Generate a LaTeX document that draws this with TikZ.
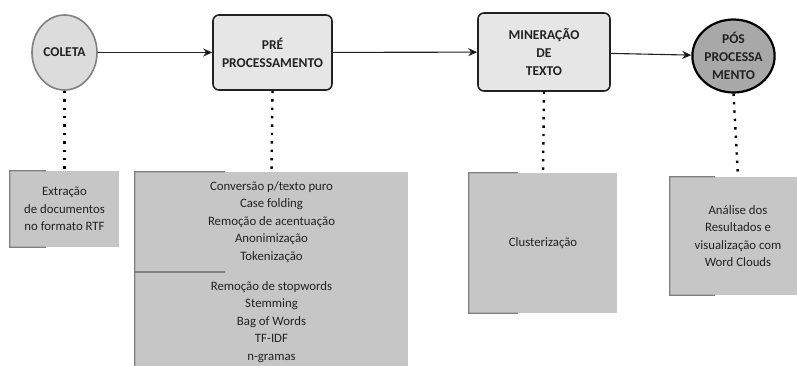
\documentclass[tikz,border=0pt]{standalone}
\usepackage{fontspec}
\setmainfont{Carlito}
\usepackage{tikz}
\usetikzlibrary{arrows.meta,shapes.geometric,calc}

\definecolor{notefill}{HTML}{C6C6C6}
\definecolor{notebrk}{HTML}{808080}
\definecolor{tasklight}{HTML}{E6E6E6}
\definecolor{startfill}{HTML}{DCDCDC}
\definecolor{endfill}{HTML}{A8A8A8}
\definecolor{ink}{HTML}{222222}

\begin{document}
\begin{tikzpicture}[x=1pt, y=-1pt,
	font=\fontsize{12.8}{17.5}\selectfont, text=ink,
	head/.style={font=\fontsize{13.5}{18}\selectfont\bfseries, align=center, inner sep=0pt},
	task/.style={head, rectangle, rounded corners=6pt, draw=ink, line width=1.6pt, fill=tasklight},
	note/.style={rectangle, fill=notefill, align=center, inner sep=0pt},
	flow/.style={draw=ink, line width=1.1pt, -{Stealth[length=9pt,width=8pt]}},
	assoc/.style={draw=black, line width=2.4pt, dash pattern=on 2.4pt off 6pt}
	]
	\useasboundingbox (0,0) rectangle (797,365);

	% eventos e tarefas
	\node[head, ellipse, draw=notebrk, line width=1.6pt, fill=startfill,
		minimum width=65pt, minimum height=75pt] (coleta) at (64.5,52.5) {COLETA};
	\node[task, minimum width=119pt, minimum height=75pt] (pre) at (272.5,52.5) {PRÉ\\PROCESSAMENTO};
	\node[task, minimum width=132pt, minimum height=78pt] (mine) at (544,52) {MINERAÇÃO\\DE\\TEXTO};
	\node[head, ellipse, draw=black, line width=2.2pt, fill=endfill, inner sep=0pt,
		minimum width=61pt, minimum height=73pt] (pos) at (733.5,56) {PÓS\\PROCESSA\\MENTO};

	% anotacoes
	\node[note, minimum width=109pt, minimum height=76pt] (a1) at (64.5,209) {Extração\\de documentos\\no formato RTF};
	\node[note, minimum width=273pt, minimum height=100pt] (a2) at (271.5,222) {Conversão p/texto puro\\Case folding\\Remoção de acentuação\\Anonimização\\Tokenização};
	\node[note, minimum width=273pt, minimum height=100pt] (a3) at (271.5,322) {Remoção de stopwords\\Stemming\\Bag of Words\\TF-IDF\\n-gramas};
	\node[note, minimum width=148pt, minimum height=140pt] (a4) at (543,243) {Clusterização};
	\node[note, minimum width=136pt, minimum height=118pt] (a5) at (738,236) {Análise dos\\Resultados e\\visualização com\\Word Clouds};

	\foreach \n in {a1,a2,a3,a4,a5}
		\draw[notebrk, line width=1.2pt]
		($(\n.north west)!.33!(\n.north east)$) -- (\n.north west)
		-- (\n.south west) -- ($(\n.south west)!.33!(\n.south east)$);

	% fluxo
	\path[flow]
	(coleta) edge (pre)
	(pre) edge (mine)
	(mine) edge (pos)
	;
	\draw[assoc] (coleta.south) -- (a1.north);
	\draw[assoc] (pre.south) -- (a2.north);
	\draw[assoc] (mine.south) -- (a4.north);
	\draw[assoc] (pos.south) -- (a5.north);
\end{tikzpicture}
\end{document}
